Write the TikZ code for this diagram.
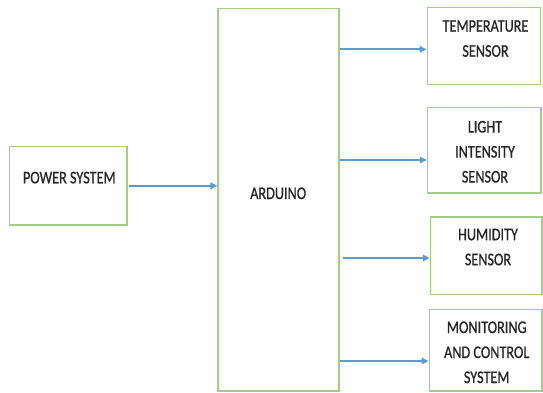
\documentclass[tikz,border=0pt]{standalone}
\usepackage{fontspec}
\setmainfont{Carlito}
\newfontfamily\lblfont{Carlito}[FakeBold=0.9]
\usepackage{graphicx}
\usetikzlibrary{arrows.meta}
\definecolor{boxgreen}{HTML}{A3CC88}
\definecolor{arrowblue}{HTML}{5B9BD5}
\definecolor{txtgray}{HTML}{262626}
\newcommand\stretchtext[1]{\scalebox{1}[1.25]{\begin{tabular}{@{}c@{}}#1\end{tabular}}}
\begin{document}
\begin{tikzpicture}[x=1pt,y=-1pt,
  blk/.style={draw=boxgreen, line width=1.6pt, inner sep=0pt, fill=white},
  lbl/.style={text=txtgray, inner sep=0pt, font=\lblfont\fontsize{14.2}{20}\selectfont},
  arr/.style={draw=arrowblue, line width=1.8pt, -{Triangle[length=7pt,width=6.5pt]}}]
\fill[white] (0,0) rectangle (543,392);
\useasboundingbox (0,0) rectangle (543,392);
\clip (0,0) rectangle (543,392);

% boxes
\node[blk, minimum width=117.4pt, minimum height=78.3pt] (power) at (68,185.8) {};
\node[blk, minimum width=120.5pt, minimum height=382.7pt] (arduino) at (278.5,199.7) {};
\node[blk, minimum width=113.2pt, minimum height=77.2pt] (temp) at (484,45.9) {};
\node[blk, minimum width=113.5pt, minimum height=85.3pt] (light) at (484.3,150.2) {};
\node[blk, minimum width=111.5pt, minimum height=77.6pt] (humid) at (486.3,255.5) {};
\node[blk, minimum width=112.7pt, minimum height=81.5pt] (monitor) at (485.7,350.3) {};

% labels
\node[lbl] (tpower) at (69.3,178.3) {\stretchtext{POWER SYSTEM}};
\node[lbl] (tarduino) at (278.2,194) {\stretchtext{ARDUINO}};
\node[lbl] (ttemp) at (485.5,39.2) {\stretchtext{TEMPERATURE\\SENSOR}};
\node[lbl] (tlight) at (485,152.5) {\stretchtext{LIGHT\\INTENSITY\\SENSOR}};
\node[lbl] (thumid) at (488,247.7) {\stretchtext{HUMIDITY\\SENSOR}};
\node[lbl] (tmonitor) at (486.7,353) {\stretchtext{MONITORING\\AND CONTROL\\SYSTEM}};

% connectors
\draw[arr, shorten <=1.5pt] (power.east) -- (power.east -| arduino.west);
\coordinate (c1) at ([yshift=-3.4pt]temp.west);
\coordinate (c2) at ([yshift=-9.8pt]light.west);
\coordinate (c3) at ([yshift=-2.5pt]humid.west);
\coordinate (c4) at ([yshift=-10.7pt]monitor.west);
\draw[arr] (c1 -| arduino.east) -- (c1);
\draw[arr] (c2 -| arduino.east) -- (c2);
\draw[arr, shorten <=3.5pt] (c3 -| arduino.east) -- (c3);
\draw[arr] (c4 -| arduino.east) -- (c4);
\end{tikzpicture}
\end{document}
